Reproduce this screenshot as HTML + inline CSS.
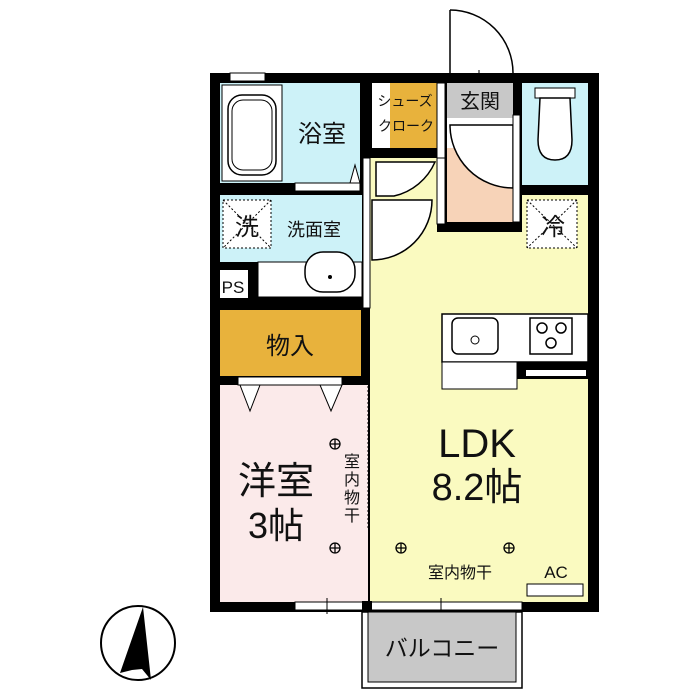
<!DOCTYPE html>
<html><head><meta charset="utf-8"><style>
html,body{margin:0;padding:0;background:#fff;width:700px;height:700px;overflow:hidden}
text{font-family:"Liberation Sans","Noto Sans CJK JP",sans-serif;fill:#111}
</style></head><body>
<svg width="700" height="700" viewBox="0 0 700 700" xmlns="http://www.w3.org/2000/svg">
<path d="M450 10 A63 63 0 0 1 513 73" fill="none" stroke="#000" stroke-width="1.5"/>
<line x1="450" y1="10" x2="450" y2="73" stroke="#000" stroke-width="1.5"/>
<line x1="479" y1="70" x2="479" y2="90" stroke="#000" stroke-width="1"/>
<rect x="210" y="73" width="389" height="539" fill="#000"/>
<rect x="220" y="83" width="140" height="100" fill="#cdf2f8"/>
<rect x="222" y="85" width="60" height="96" fill="#fff" stroke="#000" stroke-width="1"/>
<rect x="228" y="95" width="48" height="80" rx="14" fill="#fff" stroke="#000" stroke-width="1.5"/>
<rect x="232" y="100" width="40" height="70" rx="11" fill="none" stroke="#000" stroke-width="1"/>
<rect x="230" y="73" width="35" height="8" fill="#fff" stroke="#000" stroke-width="1"/>
<polygon points="350,183 355,165 360,183" fill="#fff" stroke="#000"/>
<rect x="295" y="183" width="65" height="8" fill="#fff" stroke="#000" stroke-width="1"/>
<text x="322" y="142" font-size="24" text-anchor="middle">浴室</text>
<rect x="372" y="83" width="18" height="65" fill="#fff"/>
<rect x="390" y="83" width="47" height="65" fill="#e8b23c"/>
<text x="405" y="106" font-size="14" text-anchor="middle">シューズ</text>
<text x="406" y="131" font-size="14" text-anchor="middle">クローク</text>
<rect x="447" y="83" width="66" height="65" fill="#fff"/>
<rect x="447" y="83" width="66" height="35" fill="#c8c8c8"/>
<text x="480" y="108" font-size="20" text-anchor="middle">玄関</text>
<rect x="447" y="148" width="66" height="74" fill="#f7d3b8"/>
<rect x="437" y="83" width="8" height="75" fill="#fff" stroke="#000" stroke-width="1"/>
<path d="M513 125 L450 125 A63 63 0 0 0 513 188 Z" fill="#fff" stroke="#000" stroke-width="1.5"/>
<rect x="513" y="115" width="7" height="107" fill="#fff" stroke="#000" stroke-width="1"/>
<rect x="522" y="83" width="66" height="102" fill="#cdf2f8"/>
<rect x="535" y="88" width="40" height="10" fill="#fff" stroke="#000"/>
<path d="M540 98 L570 98 L572 140 Q572 160 555 160 Q538 160 538 140 Z" fill="#fff" stroke="#000" stroke-width="1.5"/>
<rect x="220" y="195" width="142" height="67" fill="#cdf2f8"/>
<rect x="223" y="200" width="48" height="48" fill="#fff" stroke="#000" stroke-dasharray="2,2"/>
<line x1="223" y1="200" x2="271" y2="248" stroke="#000" stroke-dasharray="2,2"/>
<line x1="271" y1="200" x2="223" y2="248" stroke="#000" stroke-dasharray="2,2"/>
<text x="247" y="235" font-size="24" text-anchor="middle">洗</text>
<text x="314" y="236" font-size="18" text-anchor="middle">洗面室</text>
<rect x="220" y="270" width="28" height="28" fill="#fff"/>
<text x="233" y="293" font-size="17" text-anchor="middle">PS</text>
<rect x="258" y="262" width="104" height="35" fill="#fff" stroke="#000"/>
<rect x="305" y="252" width="50" height="40" rx="18" fill="#fff" stroke="#000" stroke-width="1.5"/>
<circle cx="330" cy="277" r="2" fill="#000"/>
<rect x="370" y="158" width="67" height="300" fill="#fafac0"/>
<rect x="370" y="232" width="218" height="370" fill="#fafac0"/>
<rect x="522" y="195" width="66" height="40" fill="#fafac0"/>
<rect x="363" y="158" width="7" height="150" fill="#fff" stroke="#000" stroke-width="1"/>
<rect x="437" y="158" width="8" height="66" fill="#fff" stroke="#000" stroke-width="1"/>
<path d="M376 162 L435 162 A59 59 0 0 1 394 196 L376 196 Z" fill="#fff" stroke="#000" stroke-width="1.5"/>
<path d="M372 200 L432 200 A60 60 0 0 1 372 260 Z" fill="#fff" stroke="#000" stroke-width="1.5"/>
<rect x="527" y="200" width="50" height="48" fill="#fff" stroke="#000" stroke-dasharray="2,2"/>
<line x1="527" y1="200" x2="577" y2="248" stroke="#000" stroke-dasharray="2,2"/>
<line x1="577" y1="200" x2="527" y2="248" stroke="#000" stroke-dasharray="2,2"/>
<text x="553" y="235" font-size="24" text-anchor="middle">冷</text>
<rect x="442" y="314" width="146" height="48" fill="#fff" stroke="#000" stroke-width="1.5"/>
<rect x="452" y="318" width="46" height="36" rx="6" fill="#fff" stroke="#000" stroke-width="1.5"/>
<circle cx="475" cy="340" r="4" fill="none" stroke="#000"/>
<rect x="530" y="318" width="42" height="36" fill="#fff" stroke="#000" stroke-width="1.5"/>
<circle cx="542" cy="328" r="5" fill="none" stroke="#000" stroke-width="1.5"/>
<circle cx="561" cy="328" r="5" fill="none" stroke="#000" stroke-width="1.5"/>
<circle cx="551" cy="343" r="5" fill="none" stroke="#000" stroke-width="1.5"/>
<rect x="442" y="362" width="75" height="27" fill="#fff" stroke="#000" stroke-width="1"/>
<rect x="517" y="362" width="71" height="17" fill="#000"/>
<rect x="526" y="370" width="60" height="6" fill="#fff"/>
<text x="477" y="457" font-size="40" text-anchor="middle">LDK</text>
<text x="477" y="500" font-size="38" text-anchor="middle">8.2帖</text>
<text x="460" y="578" font-size="16" text-anchor="middle">室内物干</text>
<text x="556" y="578" font-size="17" text-anchor="middle">AC</text>
<rect x="527" y="584" width="56" height="12" fill="#fff" stroke="#000"/>
<rect x="220" y="310" width="141" height="66" fill="#e8b23c"/>
<text x="290" y="354" font-size="24" text-anchor="middle">物入</text>
<rect x="220" y="385" width="148" height="217" fill="#fbeaea"/>
<rect x="238" y="377" width="104" height="8" fill="#fff" stroke="#000"/>
<polygon points="240,385 260,385 250,411" fill="#fff" stroke="#000"/>
<polygon points="320,385 342,385 331,411" fill="#fff" stroke="#000"/>
<line x1="368" y1="310" x2="368" y2="530" stroke="#000" stroke-dasharray="2,2"/>
<text x="276" y="494" font-size="38" text-anchor="middle">洋室</text>
<text x="276" y="538" font-size="36" text-anchor="middle">3帖</text>
<text x="352" y="467" font-size="16" text-anchor="middle">室</text>
<text x="352" y="485" font-size="16" text-anchor="middle">内</text>
<text x="352" y="503" font-size="16" text-anchor="middle">物</text>
<text x="352" y="521" font-size="16" text-anchor="middle">干</text>
<g fill="none" stroke="#000" stroke-width="1.3">
<circle cx="335" cy="444" r="5"/><path d="M330 444h10M335 439v10"/>
<circle cx="335" cy="548" r="5"/><path d="M330 548h10M335 543v10"/>
<circle cx="401" cy="548" r="5"/><path d="M396 548h10M401 543v10"/>
<circle cx="509" cy="548" r="5"/><path d="M504 548h10M509 543v10"/>
</g>
<rect x="295" y="602" width="227" height="8" fill="#fff" stroke="#000"/>
<rect x="362" y="601" width="10" height="11" fill="#000"/>
<line x1="327" y1="598" x2="327" y2="614" stroke="#000"/>
<line x1="441" y1="598" x2="441" y2="614" stroke="#000"/>
<rect x="362" y="612" width="160" height="76" fill="#fff" stroke="#000" stroke-width="1.5"/>
<rect x="368" y="612" width="148" height="70" fill="#c8c8c8" stroke="#000" stroke-width="1"/>
<text x="442" y="656" font-size="23" text-anchor="middle">バルコニー</text>
<circle cx="138" cy="643" r="37" fill="none" stroke="#000" stroke-width="2"/>
<polygon points="143,607 120,673 132,670 142,669 151,680" fill="#000"/>
</svg>
</body></html>
